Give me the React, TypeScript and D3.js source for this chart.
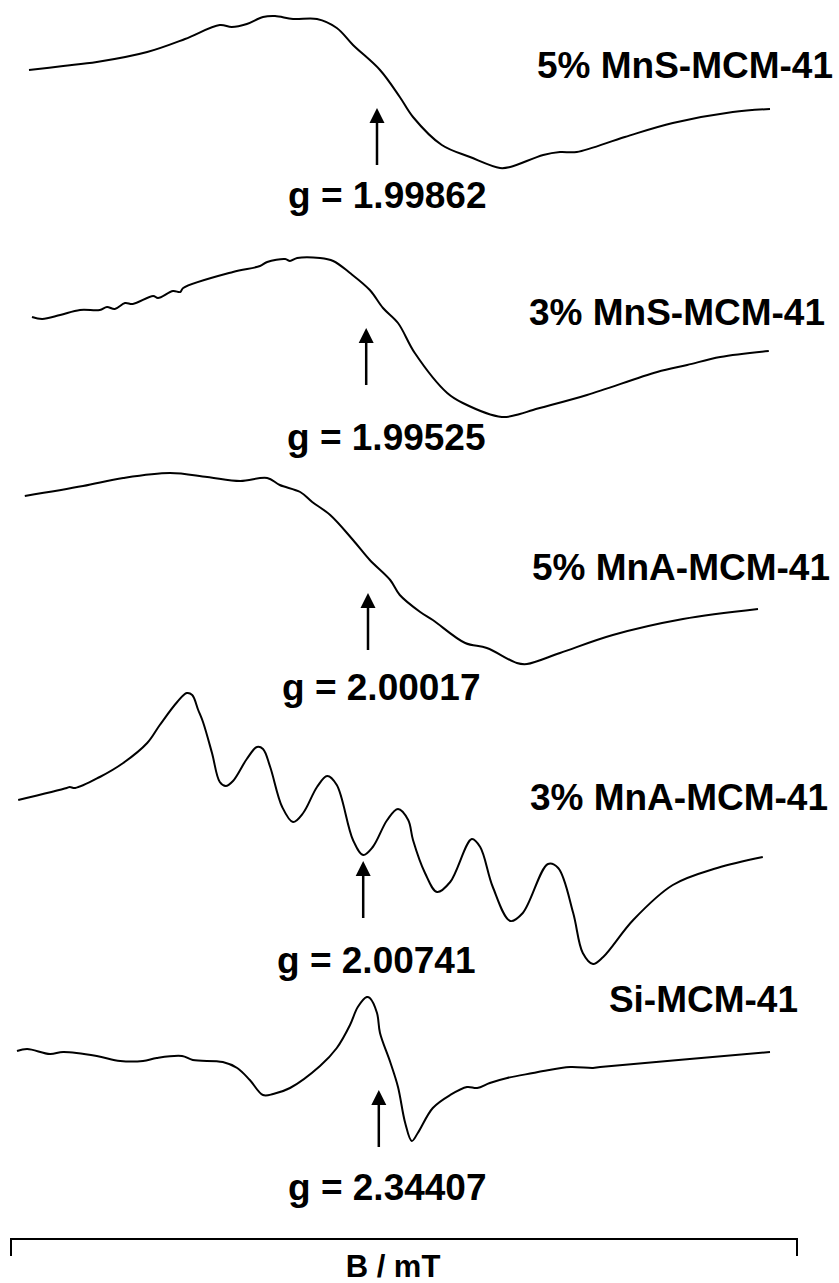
import React from "react";
import * as d3 from "d3";

// EPR spectra (first-derivative, arbitrary units) against magnetic field B (mT)
const fieldMn5S = [253.0, 258.7, 264.3, 272.7, 279.0, 284.8, 286.8, 289.3, 292.0, 294.0, 297.0, 301.0, 304.3, 307.0, 311.5, 314.8, 317.0, 321.8, 326.5, 331.5, 333.2, 338.7, 341.5, 344.3, 352.3, 360.3, 370.3, 376.5];
const signalMn5S = [30, 34, 38, 48, 61, 75, 73, 76, 83, 84, 81, 81, 72, 55, 30, 3, -17, -45, -57, -68, -67, -55, -52, -52, -37, -23, -12, -9];

const fieldMn3S = [253.5, 255.2, 258.2, 261.5, 264.8, 266.0, 267.3, 269.0, 270.3, 273.7, 274.5, 277.0, 278.2, 278.7, 287.0, 291.5, 292.7, 295.7, 296.5, 297.7, 301.5, 303.7, 306.5, 309.8, 312.0, 314.5, 317.3, 322.7, 325.3, 331.8, 334.8, 337.0, 346.0, 357.7, 362.7, 368.2, 376.3];
const signalMn3S = [23, 21, 25, 30, 30, 33, 31, 37, 36, 44, 42, 49, 48, 52, 68, 74, 78, 81, 79, 82, 82, 79, 67, 50, 32, 17, -13, -53, -63, -77, -74, -70, -55, -32, -25, -17, -11];

const fieldMn5A = [252.3, 262.0, 268.7, 276.5, 282.7, 288.2, 292.7, 294.8, 298.2, 300.2, 303.2, 307.0, 309.8, 313.2, 314.8, 318.2, 320.3, 325.7, 329.3, 334.3, 336.0, 341.5, 350.3, 362.0, 374.5];
const signalMn5A = [74, 84, 92, 97, 93, 89, 92, 85, 78, 68, 55, 30, 10, -10, -25, -42, -50, -73, -78, -93, -94, -83, -65, -49, -39];

const fieldMn3A = [251.2, 259.3, 259.8, 260.7, 264.8, 268.7, 272.7, 274.8, 277.7, 279.3, 280.2, 281.2, 282.0, 283.5, 284.8, 285.8, 287.0, 289.3, 291.0, 292.0, 293.2, 295.2, 297.0, 298.7, 301.0, 302.7, 304.3, 307.0, 308.7, 310.3, 312.7, 314.5, 316.2, 317.0, 319.0, 321.0, 323.2, 326.8, 328.2, 330.3, 333.2, 335.3, 339.5, 341.2, 343.7, 345.3, 347.0, 348.7, 353.7, 360.3, 367.7, 375.3];
const signalMn3A = [30, 42, 43, 42, 53, 67, 87, 105, 128, 137, 135, 120, 108, 77, 48, 44, 49, 71, 83, 81, 63, 23, 8, 17, 43, 54, 45, -10, -25, -17, 10, 21, 10, -10, -43, -62, -52, -9, -17, -57, -91, -83, -34, -38, -83, -123, -134, -127, -90, -55, -38, -27];

const fieldSi = [251.0, 252.7, 256.5, 258.7, 264.3, 268.2, 272.0, 274.3, 278.5, 280.3, 285.3, 287.7, 289.8, 292.0, 293.7, 296.5, 301.5, 304.3, 306.5, 307.8, 309.3, 309.8, 311.0, 311.5, 313.2, 314.5, 315.7, 316.8, 317.8, 320.3, 323.2, 326.0, 327.7, 329.8, 332.7, 337.0, 338.7, 343.2, 347.0, 348.2, 376.5];
const signalSi = [19, 21, 16, 18, 14, 9, 9, 12, 14, 10, 8, 2, -10, -25, -24, -18, 4, 22, 45, 63, 73, 72, 57, 37, 8, -17, -53, -71, -63, -38, -25, -17, -18, -13, -8, -3, -1, 3, 2, 3, 18];

const sampleNames = ["5% MnS-MCM-41", "3% MnS-MCM-41", "5% MnA-MCM-41", "3% MnA-MCM-41", "Si-MCM-41"];
const gValues = ["1.99862", "1.99525", "2.00017", "2.00741", "2.34407"];
// field position (mT) marked by each g-value arrow
const gField = [311.0, 309.2, 309.5, 308.7, 311.3];

const fieldDomain = [250, 381];
const axisLabel = "B / mT";

// layout of the stacked traces
const W = 839;
const H = 1283;
const traceBase = [100, 340, 570, 830, 1070];
const arrowTip = [8, -12, 23, 31, 20];
const arrowLen = 57;
const nameRight = [833, 825, 830, 828, 798];
const nameBase = [78, 325, 580, 810, 1012];
const gLeft = [288, 287, 282, 277, 288];
const gBase = [208, 450, 700, 973, 1200];

const FONT = "'Liberation Sans', Arial, Helvetica, sans-serif";

export default function App() {
  const x = d3.scaleLinear().domain(fieldDomain).range([11, 797]);
  const y = d3.scaleLinear().domain([-150, 150]).range([150, -150]);

  const series = [
    [fieldMn5S, signalMn5S],
    [fieldMn3S, signalMn3S],
    [fieldMn5A, signalMn5A],
    [fieldMn3A, signalMn3A],
    [fieldSi, signalSi],
  ];

  const line = d3
    .line<[number, number]>()
    .x((d) => x(d[0]))
    .y((d) => y(d[1]))
    .curve(d3.curveCatmullRom.alpha(0.5));

  const bracketY = 1239;
  const tick = 17;

  return (
    <svg
      width={W}
      height={H}
      style={{ position: "absolute", left: 0, top: 0, background: "#fff" }}
      fontFamily={FONT}
    >
      <rect width={W} height={H} fill="#fff" />
      {series.map(([bs, vs], i) => {
        const pts = bs.map((b, k) => [b, vs[k]] as [number, number]);
        const ax = x(gField[i]);
        const tipY = arrowTip[i];
        return (
          <g key={i}>
            <g transform={`translate(0,${traceBase[i]})`}>
              <path d={line(pts) || ""} fill="none" stroke="#000" strokeWidth={2} strokeLinejoin="round" />
              <line x1={ax} x2={ax} y1={tipY + 12} y2={tipY + arrowLen} stroke="#000" strokeWidth={2.5} />
              <path d={`M${ax},${tipY} L${ax - 7.5},${tipY + 15} L${ax + 7.5},${tipY + 15} Z`} fill="#000" />
            </g>
            <text x={nameRight[i]} y={nameBase[i]} textAnchor="end" fontSize={37} fontWeight="bold" fill="#000">
              {sampleNames[i]}
            </text>
            <text x={gLeft[i]} y={gBase[i]} fontSize={37} fontWeight="bold" fill="#000">
              {`g = ${gValues[i]}`}
            </text>
          </g>
        );
      })}
      <path
        d={`M${x(fieldDomain[0])},${bracketY + tick} V${bracketY} H${x(fieldDomain[1])} V${bracketY + tick}`}
        fill="none"
        stroke="#000"
        strokeWidth={2}
      />
      <text x={393} y={1277} textAnchor="middle" fontSize={31} fontWeight="bold" fill="#000">
        {axisLabel}
      </text>
    </svg>
  );
}
